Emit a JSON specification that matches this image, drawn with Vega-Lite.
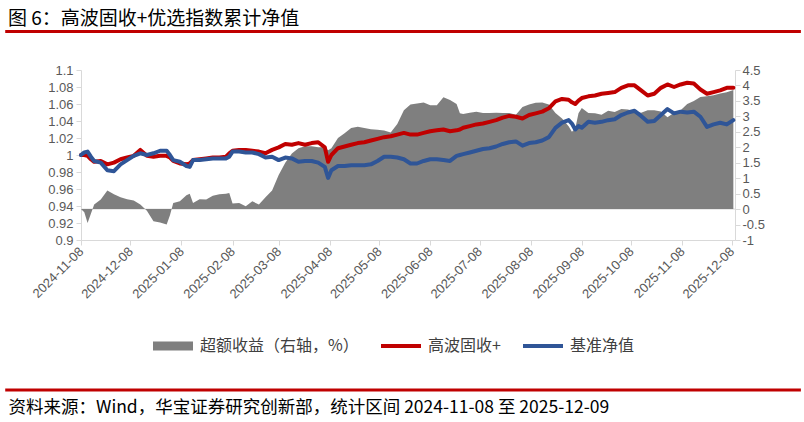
{
  "$schema": "https://vega.github.io/schema/vega-lite/v6.json",
  "width": 654,
  "height": 170,
  "autosize": {"type": "none"},
  "padding": {"left": 81, "top": 70, "right": 69, "bottom": 182},
  "background": "white",
  "title": {"text": "图 6：高波固收+优选指数累计净值", "anchor": "start", "frame": "group", "dx": -73, "offset": -8, "baseline": "middle", "font": "Noto Sans CJK SC", "fontSize": 19, "fontWeight": "normal", "color": "#000000"},
  "config": {
    "view": {"stroke": null},
    "axis": {"labelFont": "Liberation Sans", "labelFontSize": 13, "labelColor": "#595959", "domainColor": "#d9d9d9", "tickColor": "#d9d9d9", "tickSize": 5, "grid": false, "title": null, "labelOverlap": false, "labelBound": false}
  },
  "datasets": {
    "nav": [
      {"date": "2024-11-08", "fund": 1.000, "benchmark": 1.000, "excess": 0},
      {"date": "2024-11-10", "fund": 1.000, "benchmark": 1.003, "excess": -0.1},
      {"date": "2024-11-12", "fund": 0.999, "benchmark": 1.004, "excess": -0.45},
      {"date": "2024-11-14", "fund": 0.995, "benchmark": 0.998, "excess": -0.15},
      {"date": "2024-11-16", "fund": 0.992, "benchmark": 0.993, "excess": 0.15},
      {"date": "2024-11-20", "fund": 0.993, "benchmark": 0.991, "excess": 0.31},
      {"date": "2024-11-24", "fund": 0.989, "benchmark": 0.982, "excess": 0.60},
      {"date": "2024-11-28", "fund": 0.991, "benchmark": 0.981, "excess": 0.48},
      {"date": "2024-12-02", "fund": 0.995, "benchmark": 0.989, "excess": 0.38},
      {"date": "2024-12-06", "fund": 0.997, "benchmark": 0.994, "excess": 0.32},
      {"date": "2024-12-10", "fund": 0.999, "benchmark": 0.999, "excess": 0.28},
      {"date": "2024-12-14", "fund": 1.006, "benchmark": 1.002, "excess": 0.15},
      {"date": "2024-12-18", "fund": 0.999, "benchmark": 1.000, "excess": -0.05},
      {"date": "2024-12-22", "fund": 0.998, "benchmark": 1.002, "excess": -0.39},
      {"date": "2024-12-26", "fund": 0.999, "benchmark": 1.005, "excess": -0.43},
      {"date": "2024-12-30", "fund": 0.999, "benchmark": 1.005, "excess": -0.50},
      {"date": "2025-01-01", "fund": 0.997, "benchmark": 1.000, "excess": -0.2},
      {"date": "2025-01-03", "fund": 0.993, "benchmark": 0.994, "excess": 0.2},
      {"date": "2025-01-07", "fund": 0.990, "benchmark": 0.992, "excess": 0.25},
      {"date": "2025-01-11", "fund": 0.989, "benchmark": 0.987, "excess": 0.45},
      {"date": "2025-01-13", "fund": 0.990, "benchmark": 0.986, "excess": 0.5},
      {"date": "2025-01-15", "fund": 0.994, "benchmark": 0.994, "excess": 0.2},
      {"date": "2025-01-19", "fund": 0.995, "benchmark": 0.994, "excess": 0.32},
      {"date": "2025-01-23", "fund": 0.996, "benchmark": 0.995, "excess": 0.31},
      {"date": "2025-01-27", "fund": 0.997, "benchmark": 0.996, "excess": 0.43},
      {"date": "2025-01-31", "fund": 0.997, "benchmark": 0.996, "excess": 0.48},
      {"date": "2025-02-04", "fund": 0.998, "benchmark": 0.996, "excess": 0.50},
      {"date": "2025-02-06", "fund": 1.002, "benchmark": 0.998, "excess": 0.52},
      {"date": "2025-02-08", "fund": 1.005, "benchmark": 1.004, "excess": 0.18},
      {"date": "2025-02-12", "fund": 1.006, "benchmark": 1.004, "excess": 0.2},
      {"date": "2025-02-16", "fund": 1.006, "benchmark": 1.003, "excess": 0.09},
      {"date": "2025-02-20", "fund": 1.005, "benchmark": 1.003, "excess": 0.25},
      {"date": "2025-02-24", "fund": 1.004, "benchmark": 1.001, "excess": 0.15},
      {"date": "2025-02-28", "fund": 1.002, "benchmark": 0.997, "excess": 0.38},
      {"date": "2025-03-04", "fund": 1.006, "benchmark": 0.998, "excess": 0.6},
      {"date": "2025-03-08", "fund": 1.009, "benchmark": 0.994, "excess": 1.1},
      {"date": "2025-03-12", "fund": 1.013, "benchmark": 0.997, "excess": 1.5},
      {"date": "2025-03-16", "fund": 1.012, "benchmark": 0.996, "excess": 1.8},
      {"date": "2025-03-20", "fund": 1.014, "benchmark": 0.992, "excess": 1.97},
      {"date": "2025-03-24", "fund": 1.012, "benchmark": 0.993, "excess": 2.03},
      {"date": "2025-03-28", "fund": 1.014, "benchmark": 0.993, "excess": 2.03},
      {"date": "2025-04-01", "fund": 1.015, "benchmark": 0.991, "excess": 2.0},
      {"date": "2025-04-05", "fund": 1.009, "benchmark": 0.986, "excess": 2.0},
      {"date": "2025-04-07", "fund": 0.992, "benchmark": 0.973, "excess": 1.9},
      {"date": "2025-04-09", "fund": 1.000, "benchmark": 0.982, "excess": 1.97},
      {"date": "2025-04-13", "fund": 1.008, "benchmark": 0.987, "excess": 2.3},
      {"date": "2025-04-17", "fund": 1.010, "benchmark": 0.987, "excess": 2.45},
      {"date": "2025-04-21", "fund": 1.012, "benchmark": 0.988, "excess": 2.62},
      {"date": "2025-04-25", "fund": 1.014, "benchmark": 0.988, "excess": 2.66},
      {"date": "2025-04-29", "fund": 1.015, "benchmark": 0.988, "excess": 2.62},
      {"date": "2025-05-03", "fund": 1.017, "benchmark": 0.989, "excess": 2.58},
      {"date": "2025-05-07", "fund": 1.019, "benchmark": 0.993, "excess": 2.57},
      {"date": "2025-05-11", "fund": 1.021, "benchmark": 0.998, "excess": 2.54},
      {"date": "2025-05-15", "fund": 1.022, "benchmark": 0.998, "excess": 2.48},
      {"date": "2025-05-19", "fund": 1.024, "benchmark": 0.997, "excess": 2.75},
      {"date": "2025-05-23", "fund": 1.026, "benchmark": 0.995, "excess": 3.2},
      {"date": "2025-05-27", "fund": 1.024, "benchmark": 0.990, "excess": 3.38},
      {"date": "2025-05-31", "fund": 1.024, "benchmark": 0.990, "excess": 3.42},
      {"date": "2025-06-04", "fund": 1.026, "benchmark": 0.993, "excess": 3.45},
      {"date": "2025-06-08", "fund": 1.028, "benchmark": 0.995, "excess": 3.36},
      {"date": "2025-06-12", "fund": 1.029, "benchmark": 0.995, "excess": 3.36},
      {"date": "2025-06-16", "fund": 1.030, "benchmark": 0.994, "excess": 3.62},
      {"date": "2025-06-20", "fund": 1.028, "benchmark": 0.993, "excess": 3.53},
      {"date": "2025-06-24", "fund": 1.029, "benchmark": 0.999, "excess": 3.4},
      {"date": "2025-06-26", "fund": 1.030, "benchmark": 1.000, "excess": 3.1},
      {"date": "2025-06-28", "fund": 1.032, "benchmark": 1.001, "excess": 3.08},
      {"date": "2025-07-02", "fund": 1.034, "benchmark": 1.003, "excess": 3.12},
      {"date": "2025-07-06", "fund": 1.036, "benchmark": 1.005, "excess": 3.15},
      {"date": "2025-07-10", "fund": 1.037, "benchmark": 1.007, "excess": 3.11},
      {"date": "2025-07-14", "fund": 1.039, "benchmark": 1.008, "excess": 3.11},
      {"date": "2025-07-18", "fund": 1.041, "benchmark": 1.010, "excess": 3.12},
      {"date": "2025-07-22", "fund": 1.044, "benchmark": 1.013, "excess": 3.11},
      {"date": "2025-07-26", "fund": 1.046, "benchmark": 1.015, "excess": 3.11},
      {"date": "2025-07-30", "fund": 1.045, "benchmark": 1.016, "excess": 3.05},
      {"date": "2025-08-03", "fund": 1.043, "benchmark": 1.011, "excess": 3.3},
      {"date": "2025-08-07", "fund": 1.047, "benchmark": 1.014, "excess": 3.38},
      {"date": "2025-08-11", "fund": 1.049, "benchmark": 1.015, "excess": 3.44},
      {"date": "2025-08-15", "fund": 1.051, "benchmark": 1.017, "excess": 3.45},
      {"date": "2025-08-19", "fund": 1.055, "benchmark": 1.021, "excess": 3.38},
      {"date": "2025-08-23", "fund": 1.063, "benchmark": 1.032, "excess": 3.11},
      {"date": "2025-08-27", "fund": 1.066, "benchmark": 1.038, "excess": 2.93},
      {"date": "2025-08-31", "fund": 1.065, "benchmark": 1.041, "excess": 2.68},
      {"date": "2025-09-02", "fund": 1.062, "benchmark": 1.037, "excess": 2.5},
      {"date": "2025-09-04", "fund": 1.060, "benchmark": 1.030, "excess": 2.6},
      {"date": "2025-09-06", "fund": 1.064, "benchmark": 1.034, "excess": 3.1},
      {"date": "2025-09-08", "fund": 1.067, "benchmark": 1.032, "excess": 3.27},
      {"date": "2025-09-12", "fund": 1.069, "benchmark": 1.039, "excess": 3.11},
      {"date": "2025-09-16", "fund": 1.070, "benchmark": 1.038, "excess": 3.1},
      {"date": "2025-09-20", "fund": 1.072, "benchmark": 1.039, "excess": 3.05},
      {"date": "2025-09-24", "fund": 1.073, "benchmark": 1.041, "excess": 3.18},
      {"date": "2025-09-28", "fund": 1.074, "benchmark": 1.042, "excess": 3.14},
      {"date": "2025-10-02", "fund": 1.079, "benchmark": 1.047, "excess": 3.24},
      {"date": "2025-10-06", "fund": 1.082, "benchmark": 1.050, "excess": 3.22},
      {"date": "2025-10-10", "fund": 1.082, "benchmark": 1.052, "excess": 3.16},
      {"date": "2025-10-14", "fund": 1.076, "benchmark": 1.046, "excess": 3.12},
      {"date": "2025-10-18", "fund": 1.070, "benchmark": 1.039, "excess": 3.2},
      {"date": "2025-10-22", "fund": 1.072, "benchmark": 1.040, "excess": 3.2},
      {"date": "2025-10-26", "fund": 1.079, "benchmark": 1.047, "excess": 3.16},
      {"date": "2025-10-30", "fund": 1.083, "benchmark": 1.054, "excess": 2.97},
      {"date": "2025-11-03", "fund": 1.080, "benchmark": 1.049, "excess": 3.12},
      {"date": "2025-11-07", "fund": 1.083, "benchmark": 1.051, "excess": 3.2},
      {"date": "2025-11-11", "fund": 1.085, "benchmark": 1.050, "excess": 3.4},
      {"date": "2025-11-15", "fund": 1.084, "benchmark": 1.051, "excess": 3.5},
      {"date": "2025-11-19", "fund": 1.077, "benchmark": 1.045, "excess": 3.63},
      {"date": "2025-11-23", "fund": 1.072, "benchmark": 1.033, "excess": 3.65},
      {"date": "2025-11-27", "fund": 1.074, "benchmark": 1.036, "excess": 3.68},
      {"date": "2025-12-01", "fund": 1.076, "benchmark": 1.038, "excess": 3.74},
      {"date": "2025-12-05", "fund": 1.079, "benchmark": 1.036, "excess": 3.78},
      {"date": "2025-12-09", "fund": 1.079, "benchmark": 1.041, "excess": 3.85}
    ]
  },
  "data": {"name": "nav"},
  "layer": [
    {
      "layer": [
        {
          "data": {"values": [{}]},
          "mark": {"type": "rule", "color": "#d9d9d9", "strokeWidth": 1},
          "encoding": {
            "x": {"datum": {"year": 2024, "month": 11, "date": 8, "utc": true}, "type": "temporal", "scale": {"type": "utc", "domain": [{"year": 2024, "month": 11, "date": 8, "utc": true}, {"year": 2025, "month": 12, "date": 10, "utc": true}]}},
            "x2": {"datum": {"year": 2025, "month": 12, "date": 10, "utc": true}},
            "y": {"datum": 0, "type": "quantitative", "scale": {"domain": [-1, 4.5]}}
          }
        },
        {
          "mark": {"type": "area", "color": "#7f7f7f", "interpolate": "linear"},
          "encoding": {
            "x": {
              "field": "date", "type": "temporal",
              "scale": {"type": "utc", "domain": [{"year": 2024, "month": 11, "date": 8, "utc": true}, {"year": 2025, "month": 12, "date": 10, "utc": true}]},
              "axis": {
                "values": [
                  {"year": 2024, "month": 11, "date": 8, "utc": true},
                  {"year": 2024, "month": 12, "date": 8, "utc": true},
                  {"year": 2025, "month": 1, "date": 8, "utc": true},
                  {"year": 2025, "month": 2, "date": 8, "utc": true},
                  {"year": 2025, "month": 3, "date": 8, "utc": true},
                  {"year": 2025, "month": 4, "date": 8, "utc": true},
                  {"year": 2025, "month": 5, "date": 8, "utc": true},
                  {"year": 2025, "month": 6, "date": 8, "utc": true},
                  {"year": 2025, "month": 7, "date": 8, "utc": true},
                  {"year": 2025, "month": 8, "date": 8, "utc": true},
                  {"year": 2025, "month": 9, "date": 8, "utc": true},
                  {"year": 2025, "month": 10, "date": 8, "utc": true},
                  {"year": 2025, "month": 11, "date": 8, "utc": true},
                  {"year": 2025, "month": 12, "date": 8, "utc": true}
                ],
                "tickCount": 20,
                "format": "%Y-%m-%d",
                "labelAngle": -45,
                "labelAlign": "right",
                "labelBaseline": "middle",
                "labelOverlap": false,
                "labelFlush": false,
                "labelPadding": 4
              }
            },
            "y": {
              "field": "excess", "type": "quantitative",
              "scale": {"domain": [-1, 4.5]},
              "axis": {"orient": "right", "values": [-1, -0.5, 0, 0.5, 1, 1.5, 2, 2.5, 3, 3.5, 4, 4.5], "tickCount": 20, "format": "~g", "labelExpr": "replace(datum.label, '−', '-')", "labelPadding": 2, "labelOverlap": false}
            },
            "color": {
              "datum": "超额收益（右轴，%）", "type": "nominal",
              "scale": {"domain": ["超额收益（右轴，%）", "高波固收+", "基准净值"], "range": ["#7f7f7f", "#c00000", "#2f5597"]},
              "legend": {
                "orient": "none", "legendX": 72, "legendY": 256, "direction": "horizontal", "title": null,
                "labelFont": "Noto Sans CJK SC", "labelFontSize": 16, "labelColor": "#404040",
                "symbolSize": 1600, "labelOffset": 7, "columnPadding": 22,
                "encode": {
                  "symbols": {
                    "update": {
                      "shape": {"signal": "datum.value === '超额收益（右轴，%）' ? 'M-1,-0.23H1V0.23H-1Z' : 'M-1,-0.1H1V0.1H-1Z'"},
                      "fill": {"scale": "color", "field": "value"},
                      "stroke": {"value": "transparent"},
                      "strokeWidth": {"value": 0},
                      "opacity": {"value": 1}
                    }
                  }
                }
              }
            }
          }
        }
      ]
    },
    {
      "layer": [
        {
          "mark": {"type": "line", "strokeWidth": 4, "strokeJoin": "round", "strokeCap": "round"},
          "encoding": {
            "x": {"field": "date", "type": "temporal", "scale": {"type": "utc", "domain": [{"year": 2024, "month": 11, "date": 8, "utc": true}, {"year": 2025, "month": 12, "date": 10, "utc": true}]}},
            "y": {
              "field": "fund", "type": "quantitative",
              "scale": {"domain": [0.9, 1.1]},
              "axis": {"orient": "left", "values": [0.9, 0.92, 0.94, 0.96, 0.98, 1, 1.02, 1.04, 1.06, 1.08, 1.1], "tickCount": 20, "format": "~g", "labelPadding": 3, "labelOverlap": false}
            },
            "color": {"datum": "高波固收+", "type": "nominal"}
          }
        },
        {
          "mark": {"type": "line", "strokeWidth": 4, "strokeJoin": "round", "strokeCap": "round"},
          "encoding": {
            "x": {"field": "date", "type": "temporal", "scale": {"type": "utc", "domain": [{"year": 2024, "month": 11, "date": 8, "utc": true}, {"year": 2025, "month": 12, "date": 10, "utc": true}]}},
            "y": {"field": "benchmark", "type": "quantitative", "scale": {"domain": [0.9, 1.1]}},
            "color": {"datum": "基准净值", "type": "nominal"}
          }
        },
        {
          "data": {"values": [{}]},
          "mark": {"type": "rule", "color": "#c00000", "strokeWidth": 3},
          "encoding": {
            "x": {"datum": {"year": 2024, "month": 9, "date": 23, "utc": true}, "type": "temporal", "scale": {"type": "utc", "domain": [{"year": 2024, "month": 11, "date": 8, "utc": true}, {"year": 2025, "month": 12, "date": 10, "utc": true}]}},
            "x2": {"datum": {"year": 2026, "month": 1, "date": 19, "utc": true}},
            "y": {"datum": 1.1453, "type": "quantitative", "scale": {"domain": [0.9, 1.1]}}
          }
        },
        {
          "data": {"values": [{}]},
          "mark": {"type": "rule", "color": "#c00000", "strokeWidth": 3},
          "encoding": {
            "x": {"datum": {"year": 2024, "month": 9, "date": 23, "utc": true}, "type": "temporal", "scale": {"type": "utc", "domain": [{"year": 2024, "month": 11, "date": 8, "utc": true}, {"year": 2025, "month": 12, "date": 10, "utc": true}]}},
            "x2": {"datum": {"year": 2026, "month": 1, "date": 19, "utc": true}},
            "y": {"datum": 0.7235, "type": "quantitative", "scale": {"domain": [0.9, 1.1]}}
          }
        },
        {
          "data": {"values": [{}]},
          "mark": {"type": "text", "align": "left", "baseline": "middle", "font": "Noto Sans CJK SC", "fontSize": 17.5, "color": "#000000"},
          "encoding": {
            "x": {"datum": {"year": 2024, "month": 9, "date": 25, "utc": true}, "type": "temporal", "scale": {"type": "utc", "domain": [{"year": 2024, "month": 11, "date": 8, "utc": true}, {"year": 2025, "month": 12, "date": 10, "utc": true}]}},
            "y": {"datum": 0.7024, "type": "quantitative", "scale": {"domain": [0.9, 1.1]}},
            "text": {"value": "资料来源：Wind，华宝证券研究创新部，统计区间 2024-11-08 至 2025-12-09"}
          }
        }
      ]
    }
  ],
  "resolve": {"scale": {"y": "independent"}}
}
